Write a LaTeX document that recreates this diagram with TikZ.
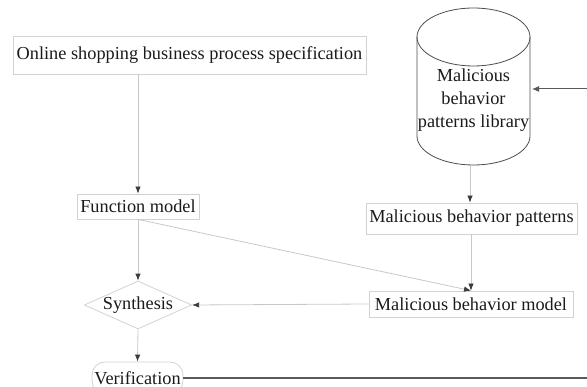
\documentclass[tikz,border=0pt]{standalone}
\usepackage{fontspec}
\setmainfont{Liberation Serif}
\usetikzlibrary{shapes.geometric,arrows.meta}
\definecolor{boxline}{HTML}{D2D2D2}
\definecolor{conline}{HTML}{C8C8C8}
\definecolor{headcol}{HTML}{3C3C3C}
\definecolor{txt}{HTML}{1A1A1A}
\definecolor{darkline}{HTML}{5A5A5A}
\tikzset{
  box/.style={draw=boxline, line width=0.8pt, inner sep=0pt, text=txt,
    font=\fontsize{18.3}{21}\selectfont},
  conn/.style={draw=conline, line width=0.8pt,
    -{Latex[length=7pt,width=5.5pt,color=headcol]}},
  darkconn/.style={draw=darkline, line width=1.2pt},
}
\begin{document}
\begin{tikzpicture}[x=1pt,y=-1pt]
\useasboundingbox (0,0) rectangle (587,387);
% nodes
\node[box, minimum width=353pt, minimum height=38pt] (spec) at (189.5,55) {Online shopping business process specification};
\node[box, minimum width=122pt, minimum height=25pt] (fm) at (138,206.5) {Function model};
\node[box, diamond, aspect=2.24] (syn) at (138,305) {Synthesis};
\node[box, rounded corners=13pt, minimum width=91pt, minimum height=32pt] (ver) at (137.5,378) {Verification};
\node[box, minimum width=211pt, minimum height=31pt] (mbp) at (471.5,218.5) {Malicious behavior patterns};
\node[box, minimum width=204pt, minimum height=26pt] (mbm) at (471,304) {Malicious behavior model};
% cylinder
\draw[draw=black!70, line width=0.8pt] (473.5,37) ellipse[x radius=56.5pt, y radius=29pt];
\draw[draw=black!70, line width=0.8pt] (417,37) -- (417,136) arc[start angle=180, end angle=360, x radius=56.5pt, y radius=29pt] -- (530,37);
\node[draw=none, inner sep=0pt, align=center, text=txt, font=\fontsize{18.3}{23}\selectfont, minimum width=113pt] (lib) at (473.5,100) {Malicious\\behavior\\patterns library};
\coordinate (libS) at (470,165);
\coordinate (libE) at (532,89);
\coordinate (inR) at (587,89);
\coordinate (outR) at (587,378);
% connectors
\draw[conn] (spec.south -| fm.north) -- (fm.north);
\draw[conn] (fm.south) -- (syn.north);
\draw[conn] (syn.south) -- (ver.north);
\draw[conn] (libS) -- (libS |- mbp.north);
\draw[conn] (mbp.south -| mbm.north) -- (mbm.north);
\draw[conn] (fm.south) -- (mbm.north);
\draw[conn] (mbm.west) -- (syn.east);
\draw[darkconn] (ver.east) -- (outR);
\draw[darkconn, line width=1pt, -{Latex[length=7pt,width=6pt]}] (inR) -- (libE);
\end{tikzpicture}
\end{document}
